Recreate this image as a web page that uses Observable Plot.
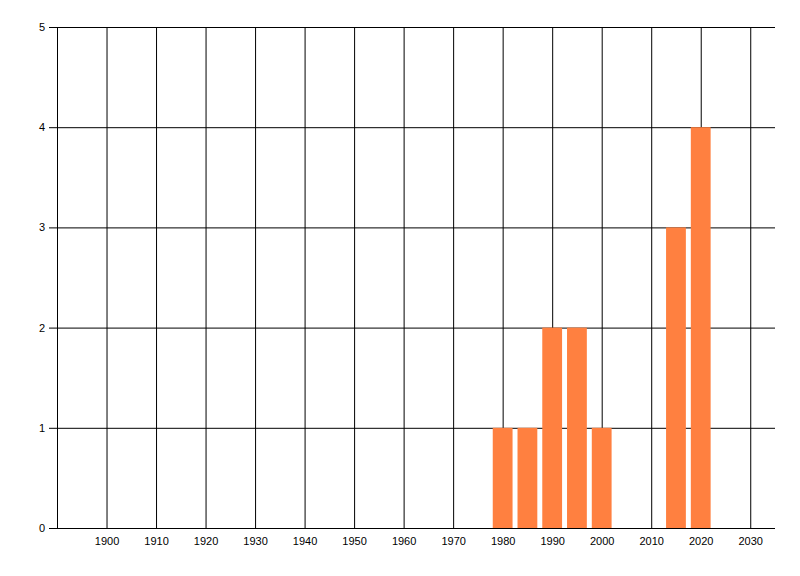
<!DOCTYPE html>
<html><head><meta charset="utf-8">
<script src="https://cdn.jsdelivr.net/npm/d3@7"></script>
<script src="https://cdn.jsdelivr.net/npm/@observablehq/plot@0.6"></script>
<style>body{margin:0;background:#fff}</style>
</head><body><div id="chart"></div>
<script>
const years = [1980, 1985, 1990, 1995, 2000, 2015, 2020];
const counts = [1, 1, 2, 2, 1, 3, 4];
const xTicks = [1900, 1910, 1920, 1930, 1940, 1950, 1960, 1970, 1980, 1990, 2000, 2010, 2020, 2030];
const yTicks = [0, 1, 2, 3, 4, 5];
const xDomain = [1890, 2035];
const yDomain = [0, 5];
const barHalfWidth = 2;

const data = years.map((y, i) => ({year: y, count: counts[i]}));

const chart = Plot.plot({
  width: 800,
  height: 576,
  marginLeft: 57,
  marginRight: 25,
  marginTop: 27,
  marginBottom: 48,
  style: {fontFamily: "'Liberation Sans', Arial, sans-serif", fontSize: "11px", color: "#000", background: "#fff"},
  x: {domain: xDomain, label: null},
  y: {domain: yDomain, label: null},
  marks: [
    Plot.ruleX(xTicks, {stroke: "#000", strokeOpacity: 1}),
    Plot.ruleY(yTicks, {stroke: "#000", strokeOpacity: 1}),
    Plot.ruleX([xDomain[0]], {stroke: "#000"}),
    Plot.rectY(data, {x1: d => d.year - barHalfWidth, x2: d => d.year + barHalfWidth, y: "count", fill: "#FF8040"}),
    Plot.axisY({ticks: yTicks, tickSize: 8, tickPadding: 4.5, tickFormat: d => String(d), label: null}),
    Plot.axisX({ticks: xTicks, tickSize: 0, tickPadding: 9, tickFormat: d => String(d), label: null})
  ]
});
document.getElementById("chart").appendChild(chart);
</script>
</body></html>
